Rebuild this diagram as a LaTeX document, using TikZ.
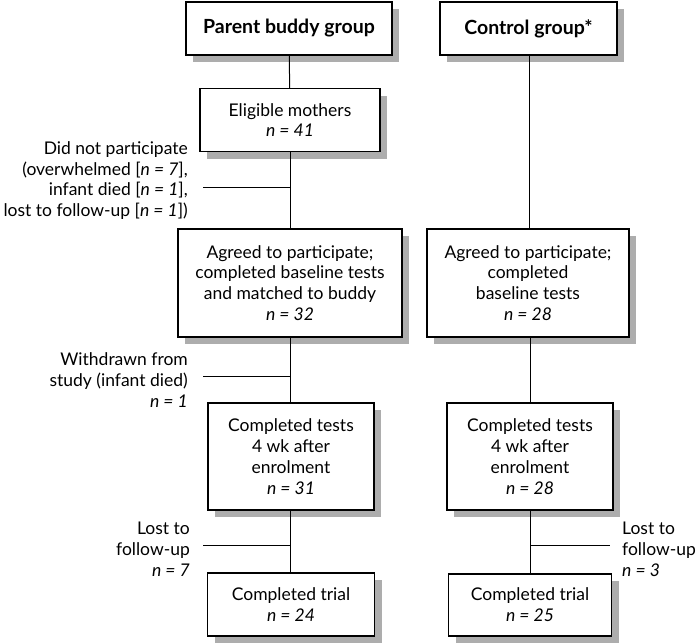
\documentclass[tikz,border=0pt]{standalone}
\usepackage{fontspec}
\setmainfont{Lato}
\usepackage{tikz}
\usetikzlibrary{shadows}

\begin{document}
\begin{tikzpicture}[x=1pt, y=-1pt, every node/.style={font=\fontsize{17.5}{20.8}\selectfont},
    box/.style={draw, fill=white, line width=1.2pt, align=center, inner sep=0pt,
      drop shadow={shadow xshift=7pt, shadow yshift=-7pt, fill=black!32, opacity=1}},
    head/.style={box, minimum height=53pt, font=\bfseries\fontsize{19.5}{22}\selectfont},
    note/.style={inner sep=0pt, align=right, anchor=east},
    link/.style={line width=1pt}]
  \useasboundingbox (0,0) rectangle (700,643);

  % group headers
  \node[head, minimum width=206pt] (buddy) at (289,28.5) {Parent buddy group};
  \node[head, minimum width=177pt] (ctrl) at (528.5,28.5) {Control group*};

  % parent buddy arm
  \node[box, minimum width=180pt, minimum height=63pt] (elig) at (290,120) {Eligible mothers\\\textit{n = 41}};
  \node[box, minimum width=224pt, minimum height=108pt] (agreeL) at (290,283) {Agreed to participate;\\completed baseline tests\\and matched to buddy\\\textit{n = 32}};
  \node[box, minimum width=166pt, minimum height=107pt] (testsL) at (291,456.5) {Completed tests\\4 wk after\\enrolment\\\textit{n = 31}};
  \node[box, minimum width=167pt, minimum height=63pt] (trialL) at (291,604.5) {Completed trial\\\textit{n = 24}};

  % control arm
  \node[box, minimum width=202pt, minimum height=108pt] (agreeR) at (528,283) {Agreed to participate;\\completed\\baseline tests\\\textit{n = 28}};
  \node[box, minimum width=166pt, minimum height=107pt] (testsR) at (530,456.5) {Completed tests\\4 wk after\\enrolment\\\textit{n = 28}};
  \node[box, minimum width=163pt, minimum height=62pt] (trialR) at (530,605) {Completed trial\\\textit{n = 25}};

  % exclusions
  \node[note] (nopart) at (188,180.5) {Did not participate\\(overwhelmed [\textit{n = 7}],\\infant died [\textit{n = 1}],\\lost to follow-up [\textit{n = 1}])};
  \node[note] (withdr) at (188,380) {Withdrawn from\\study (infant died)\\\textit{n = 1}};
  \node[note] (lostL) at (190,549) {Lost to\\follow-up\\\textit{n = 7}};
  \node[note, align=left, anchor=west] (lostR) at (622,549) {Lost to\\follow-up\\\textit{n = 3}};

  \coordinate (j1) at (290,187);
  \coordinate (j2) at (290,376);
  \coordinate (j3) at (290,545);
  \coordinate (j4) at (530,545);
  \coordinate (endR) at (610,545);

  \draw[link] (buddy) -- (elig);
  \draw[link] (elig) -- (agreeL);
  \draw[link] (agreeL.south -| j2) -- (testsL.north -| j2);
  \draw[link] (testsL.south -| j3) -- (trialL.north -| j3);
  \draw[link] (ctrl.south -| 529,0) -- (agreeR.north -| 529,0);
  \draw[link] (agreeR.south -| j4) -- (testsR.north -| j4);
  \draw[link] (testsR) -- (trialR);

  \draw[link] ([xshift=15pt]nopart.east |- j1) -- (j1);
  \draw[link] ([xshift=15pt]withdr.east |- j2) -- (j2);
  \draw[link] ([xshift=13pt]lostL.east |- j3) -- (j3);
  \draw[link] (j4) -- (endR);
\end{tikzpicture}
\end{document}
